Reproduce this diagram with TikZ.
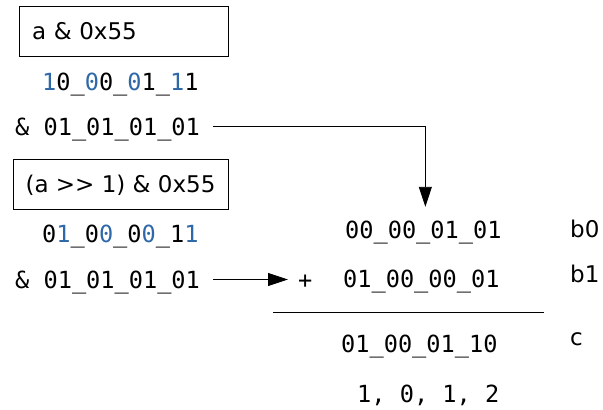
\documentclass[tikz,border=0pt]{standalone}
\usepackage{fontspec}
\setmainfont{DejaVu Sans}
\setmonofont{DejaVu Sans Mono}
\usetikzlibrary{arrows.meta,positioning}
\definecolor{bitblue}{RGB}{46,104,168}
\newcommand{\hbit}[1]{\textcolor{bitblue}{#1}}

\begin{document}
\begin{tikzpicture}[
  x=1pt, y=-1pt,
  bits/.style={font=\fontsize{23.6}{28}\selectfont\ttfamily, inner sep=0pt,
    text height=17pt, text depth=0pt, anchor=base west},
  lbl/.style={font=\fontsize{23}{28}\selectfont, inner sep=0pt, anchor=base west},
  maskbox/.style={draw, line width=0.9pt, font=\fontsize{23}{28}\selectfont,
    inner xsep=13pt, text height=16.5pt, text depth=0pt, minimum height=50pt},
  arr/.style={-{Triangle[length=20pt,width=13pt]}, line width=0.9pt},
]
\useasboundingbox (0,0) rectangle (603,410);
% left column: the two masked halves
\node[maskbox, text width=183pt, align=left] (boxa) at (123.5,31) {a \& 0x55};
\node[bits] (abits) at (42,90) {\hbit{1}0\_\hbit{0}0\_\hbit{0}1\_\hbit{1}1};
\node[bits] (maska) at (15,135) {\& 01\_01\_01\_01};
\node[maskbox, inner xsep=0pt, minimum width=215pt] (boxb) at (120.5,184) {(a >{}> 1) \& 0x55};
\node[bits] (bbits) at (42,242) {0\hbit{1}\_0\hbit{0}\_0\hbit{0}\_1\hbit{1}};
\node[bits] (maskb) at (15,288) {\& 01\_01\_01\_01};
% right column: the sum
\node[bits] (bzero) at (345,238) {00\_00\_01\_01};
\node[bits] (plus) at (298,288) {+};
\node[bits] (bone) at (343,287) {01\_00\_00\_01};
\draw[line width=0.9pt] (273,312) -- (544,312);
\node[bits] (csum) at (341,352) {01\_00\_01\_10};
\node[bits] (cnt) at (357,402) {1, 0, 1, 2};
\node[lbl] at (570,237) {b0};
\node[lbl] at (570,282) {b1};
\node[lbl] at (570,345) {c};
% connectors
\draw[arr, shorten <=13pt, shorten >=14pt] (maska.east) -| ([xshift=2pt]bzero.north);
\draw[arr, shorten <=13pt, shorten >=10pt] (maskb.east) -- (plus.west);
\end{tikzpicture}
\end{document}
